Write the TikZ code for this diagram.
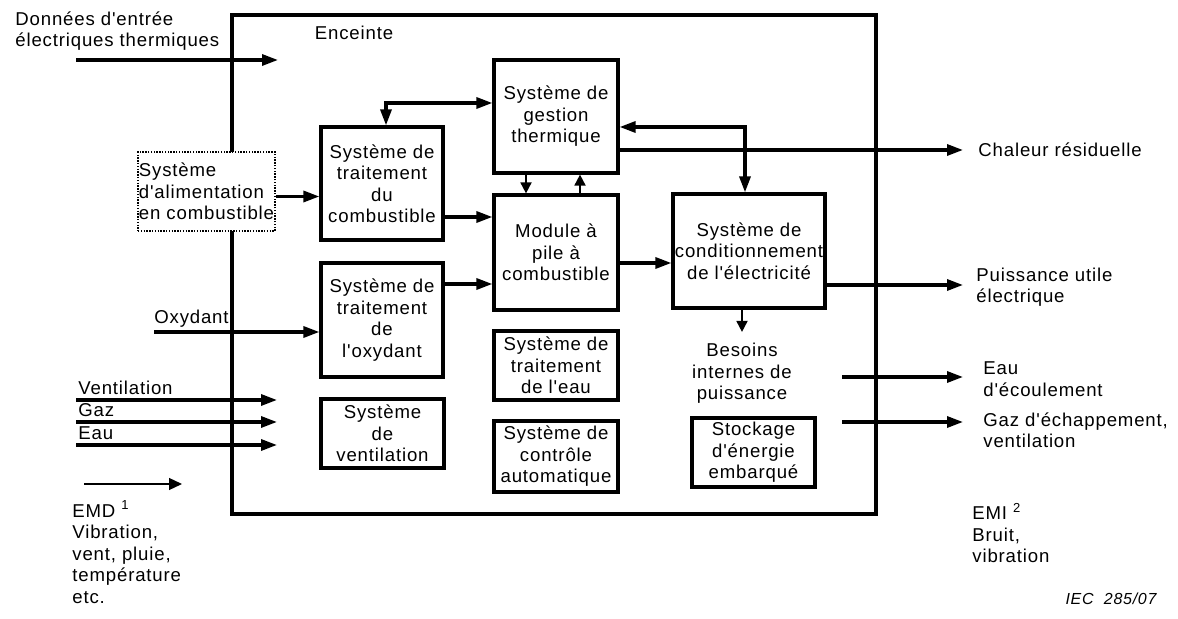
\documentclass[tikz,border=0pt]{standalone}
\usepackage{fontspec}
\setmainfont{Liberation Sans}[LetterSpace=4.5, Ligatures=TeXOff]
\usetikzlibrary{arrows.meta,positioning}

\tikzset{
  txt/.style={font=\fontsize{9.3}{10.75}\selectfont, inner sep=0pt, align=center},
  blk/.style={txt, draw, line width=1.6pt},
  encl/.style={draw, line width=1.6pt, minimum width=322pt, minimum height=249.5pt, inner sep=0pt},
  fat/.style={line width=1.6pt, >={Triangle[length=8pt,width=5.5pt]}},
  fine/.style={line width=0.9pt, >={Triangle[length=5.5pt,width=5.5pt]}},
  hair/.style={line width=0.65pt, >={Triangle[length=6.5pt,width=6pt]}},
}

\begin{document}
\begin{tikzpicture}[x=0.5pt,y=-0.5pt]
\useasboundingbox (0,0) rectangle (1178,619);
% enceinte
\node[encl] (enc) at (554,264.5) {};
\node[txt] (enclab) at (354,33) {Enceinte};

% blocs
\node[blk, minimum width=61pt, minimum height=56.5pt] (stc) at (382,183.5) {Système de\\traitement\\du\\combustible};
\node[blk, minimum width=61pt, minimum height=57pt] (sto) at (382,320) {Système de\\traitement\\de\\l'oxydant};
\node[blk, minimum width=61.5pt, minimum height=34.5pt] (sve) at (382.5,433.5) {Système\\de\\ventilation};
\node[blk, minimum width=62pt, minimum height=56.5pt] (gt) at (556,116.5) {Système de\\gestion\\thermique};
\node[blk, minimum width=62pt, minimum height=57.5pt] (mod) at (556,252.5) {Module à\\pile à\\combustible};
\node[blk, minimum width=62pt, minimum height=34.5pt] (ste) at (556,365.5) {Système de\\traitement\\de l'eau};
\node[blk, minimum width=62pt, minimum height=35.5pt] (sca) at (556,456.5) {Système de\\contrôle\\automatique};
\node[blk, minimum width=76pt, minimum height=57pt] (ce) at (749,251) {Système de\\conditionnement\\de l'électricité};
\node[blk, minimum width=61.5pt, minimum height=34.5pt] (sto2) at (753.5,452.5) {Stockage\\d'énergie\\embarqué};
\node[txt] (bes) at (742,373.5) {Besoins\\internes de\\puissance};
\node[txt, align=left, draw, fill=white, line width=0.7pt, dash pattern=on 0.7pt off 0.7pt,
  minimum width=68.5pt, minimum height=39.5pt] (alim) at (206.5,191.5) {Système\\d'alimentation\\en combustible};

% entrees
\coordinate (din) at (76,60);
\coordinate (dout) at (278,60);
\coordinate (oxy) at (154,332);
\coordinate (vin) at (76,400);
\coordinate (vout) at (277,400);
\coordinate (gin) at (76,422);
\coordinate (gout) at (277,422);
\coordinate (ein) at (76,445);
\coordinate (eout) at (277,445);
\coordinate (emds) at (84,484);
\coordinate (emde) at (182,484);
% sorties
\coordinate (heat) at (963,150);
\coordinate (pwr) at (963,285);
\coordinate (eaus) at (842,377);
\coordinate (eaue) at (963,377);
\coordinate (gazs) at (842,422);
\coordinate (gaze) at (963,422);

\draw[fat,->] (din) -- (dout);
\draw[fat,->] ([yshift=-2.5pt]alim.east) -- ([yshift=-2.5pt]alim.east -| stc.west);
\draw[fat,->] ([yshift=-16.75pt]stc.east) -- ([yshift=-16.75pt]stc.east -| mod.west);
\draw[fat,->] ([yshift=18pt]sto.east) -- ([yshift=18pt]sto.east -| mod.west);
\draw[fat,->] (oxy) -- (oxy -| sto.west);
\draw[fat,<->] ([xshift=2pt]stc.north) |- ([yshift=6.75pt]gt.west);
\draw[fat,<->] ([yshift=-5.25pt]gt.east) -| ([xshift=-2pt]ce.north);
\draw[fine,->] ([xshift=-15pt]gt.south) -- ([xshift=-15pt]mod.north);
\draw[fine,->] ([xshift=12pt]mod.north) -- ([xshift=12pt]gt.south);
\draw[fat,->] ([yshift=-5.25pt]mod.east) -- ([yshift=-5.25pt]mod.east -| ce.west);
\draw[fat,->] ([yshift=-16.75pt]gt.east) -- (heat);
\draw[fat,->] ([yshift=-17pt]ce.east) -- (pwr);
\draw[fine,->] (bes.north |- ce.south) -- ([yshift=5.5pt]bes.north);
\draw[fat,->] (vin) -- (vout);
\draw[fat,->] (gin) -- (gout);
\draw[fat,->] (ein) -- (eout);
\draw[hair,->] (emds) -- (emde);
\draw[fat,->] (eaus) -- (eaue);
\draw[fat,->] (gazs) -- (gaze);

% textes
\node[txt, align=left, anchor=west] (dlab) at (15,31) {Données d'entrée\\électriques thermiques};
\node[txt, anchor=south east, inner sep=1pt] (oxlab) at (231,330) {Oxydant};
\node[txt, anchor=south west, inner xsep=1pt, inner ysep=2.5pt] (vlab) at (vin) {Ventilation};
\node[txt, anchor=south west, inner xsep=1pt, inner ysep=2.5pt] (glab) at (gin) {Gaz};
\node[txt, anchor=south west, inner xsep=1pt, inner ysep=2.5pt] (elab) at (ein) {Eau};
\node[txt, align=left, anchor=west] (emdlab) at (72,552) {EMD \textsuperscript{1}\\Vibration,\\vent, pluie,\\température\\etc.};
\node[txt, anchor=west] (heatlab) at (978,150) {Chaleur résiduelle};
\node[txt, align=left, anchor=west] (pwrlab) at (976,287) {Puissance utile\\électrique};
\node[txt, align=left, anchor=west] (eaulab) at (983,379) {Eau\\d'écoulement};
\node[txt, align=left, anchor=west] (gazlab) at (983,430) {Gaz d'échappement,\\ventilation};
\node[txt, align=left, anchor=west] (emilab) at (972,533) {EMI \textsuperscript{2}\\Bruit,\\vibration};
\node[txt, font=\fontsize{8}{9}\selectfont\itshape] (ieclab) at (1111,599) {IEC\ \ 285/07};
\end{tikzpicture}
\end{document}
